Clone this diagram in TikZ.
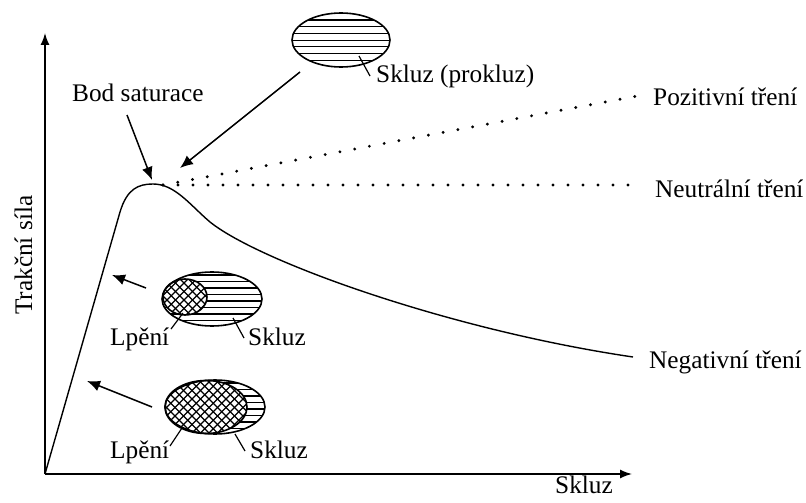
\documentclass[tikz,border=0pt]{standalone}
\usepackage{fontspec}
\setmainfont{Liberation Serif}
\usetikzlibrary{arrows.meta}
\begin{document}
\begin{tikzpicture}[x=1pt,y=-1pt,
  lbl/.style={font=\fontsize{25.3}{30}\selectfont, inner sep=0pt, anchor=base west},
  axis/.style={line width=1.5pt, -{Latex[length=12pt,width=9pt]}},
  pointer/.style={line width=1.5pt, -{Latex[length=13pt,width=11pt]}},
  curve/.style={line width=1.4pt},
  dotline/.style={line width=3.2pt, line cap=round, dash pattern=on 0pt off 15pt},
  leader/.style={line width=1.2pt},
  outline/.style={line width=1.6pt},
  hatch/.style={line width=1.1pt},
  xhatch/.style={line width=1.2pt}]
\useasboundingbox (0,0) rectangle (806,503);

% coordinates
\coordinate (O) at (45,474);
\coordinate (ytip) at (45,33);
\coordinate (xtip) at (632,474);
\coordinate (peak) at (153,184);
\coordinate (negend) at (633,357);
\coordinate (dstart) at (163,185);
\coordinate (pozend) at (637,96);
\coordinate (neuend) at (637,185);

% texts
\node[lbl] (bod) at (72,102) {Bod saturace};
\node[lbl] (skp) at (376,82) {Skluz (prokluz)};
\node[lbl] (poz) at (653,105) {Pozitivní tření};
\node[lbl] (neu) at (655,197) {Neutrální tření};
\node[lbl] (neg) at (649,368) {Negativní tření};
\node[lbl] (sx) at (555,493) {Skluz};
\node[lbl, rotate=90] (ty) at (32,315) {Trakční síla};
\node[lbl] (l1) at (110,345) {Lpění};
\node[lbl] (s1) at (248,345) {Skluz};
\node[lbl] (l2) at (110,458) {Lpění};
\node[lbl] (s2) at (250,458) {Skluz};

% axes
\draw[axis] (O) -- (ytip);
\draw[axis] (O) -- (xtip);

% curve
\draw[curve] (O) -- (120,212) .. controls (127,189) and (138,184) .. (peak)
  .. controls (175,184) and (190,205) .. (210,222)
  .. controls (260,262) and (450,330) .. (negend);

% dotted lines
\draw[dotline] (dstart) -- (pozend);
\draw[dotline] (dstart) -- (neuend);

% top ellipse (slip)
\begin{scope}
  \clip (341,40) ellipse [x radius=49, y radius=27];
  \foreach \yy in {20,26.7,...,66} \draw[hatch] (290,\yy) -- (392,\yy);
\end{scope}
\draw[outline] (341,40) ellipse [x radius=49, y radius=27];
\coordinate (skpA) at (359,56);
\coordinate (skpB) at (370,76);
\draw[leader] (skpA) -- (skpB);

% arrows to peak
\coordinate (bodA) at (127,115);
\coordinate (bodB) at (152,180);
\draw[pointer] (bodA) -- (bodB);
\coordinate (skpC) at (300,72);
\coordinate (skpD) at (180,168);
\draw[pointer] (skpC) -- (skpD);

% middle ellipse group
\begin{scope}
  \clip (212,299) ellipse [x radius=50, y radius=27];
  \foreach \yy in {275,281.5,...,326} \draw[hatch] (160,\yy) -- (265,\yy);
\end{scope}
\fill[white] (185,297) ellipse [x radius=22, y radius=18];
\begin{scope}
  \clip (185,297) ellipse [x radius=22, y radius=18];
  \foreach \xx in {120,128.5,...,260} {
    \draw[xhatch] (\xx,270) -- (\xx+60,330);
    \draw[xhatch] (\xx,330) -- (\xx+60,270);
  }
\end{scope}
\draw[outline] (212,299) ellipse [x radius=50, y radius=27];
\draw[outline] (185,297) ellipse [x radius=22, y radius=18];
\coordinate (m1a) at (183,313);
\coordinate (m1b) at (171,329);
\draw[leader] (m1a) -- (m1b);
\coordinate (m2a) at (233,318);
\coordinate (m2b) at (244,338);
\draw[leader] (m2a) -- (m2b);
\coordinate (mArA) at (146,288);
\coordinate (mArB) at (112,275);
\draw[pointer] (mArA) -- (mArB);

% bottom ellipse group
\begin{scope}
  \clip (215,407) ellipse [x radius=50, y radius=27];
  \foreach \yy in {383,389.5,...,434} \draw[hatch] (160,\yy) -- (268,\yy);
\end{scope}
\fill[white] (206,407) ellipse [x radius=41, y radius=26.5];
\begin{scope}
  \clip (206,407) ellipse [x radius=41, y radius=26.5];
  \foreach \xx in {100,108.5,...,260} {
    \draw[xhatch] (\xx,375) -- (\xx+65,440);
    \draw[xhatch] (\xx,440) -- (\xx+65,375);
  }
\end{scope}
\draw[outline] (215,407) ellipse [x radius=50, y radius=27];
\draw[outline] (206,407) ellipse [x radius=41, y radius=26.5];
\coordinate (b1a) at (182,428);
\coordinate (b1b) at (170,446);
\draw[leader] (b1a) -- (b1b);
\coordinate (b2a) at (235,434);
\coordinate (b2b) at (245,451);
\draw[leader] (b2a) -- (b2b);
\coordinate (bArA) at (152,407);
\coordinate (bArB) at (87,381);
\draw[pointer] (bArA) -- (bArB);
\end{tikzpicture}
\end{document}
